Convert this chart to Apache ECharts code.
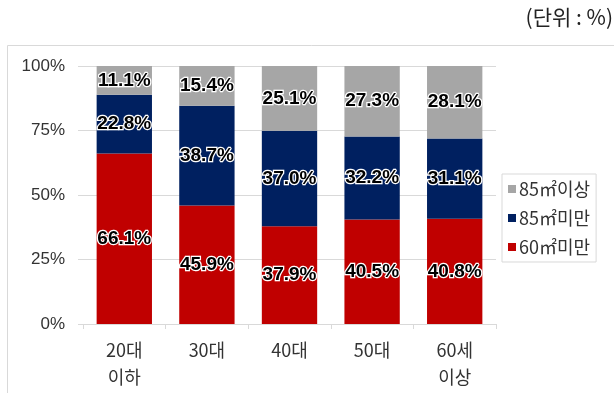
<!DOCTYPE html>
<html>
<head>
<meta charset="utf-8">
<script src="https://cdn.jsdelivr.net/npm/echarts@6/dist/echarts.min.js"></script>
<style>
  html, body { margin: 0; padding: 0; background: #fff; }
  #chart { width: 614px; height: 393px; }
</style>
</head>
<body>
<div id="chart"></div>
<script>
// Age groups (two-line labels)
const categories = ['20대\n이하', '30대', '40대', '50대', '60세\n이상'];
// Share of housing size by age group (%)
const under60 = [66.1, 45.9, 37.9, 40.5, 40.8];
const under85 = [22.8, 38.7, 37.0, 32.2, 31.1];
const over85 = [11.1, 15.4, 25.1, 27.3, 28.1];
const seriesNames = ['60㎡미만', '85㎡미만', '85㎡이상'];
const yTicks = { min: 0, max: 100, interval: 25 };

const FONT = '"Liberation Sans", "Noto Sans CJK KR", sans-serif';
const KFONT = '"Noto Sans CJK KR", sans-serif';
const colors = ['#C00000', '#002060', '#A6A6A6'];

const segLabel = {
  show: true,
  position: 'inside',
  formatter: p => p.value.toFixed(1) + '%',
  fontFamily: FONT,
  fontSize: 19,
  fontWeight: 'bold',
  color: '#000',
  textBorderColor: '#fff',
  textBorderWidth: 2.5
};

function makeSeries(name, data, color) {
  return {
    name: name,
    type: 'bar',
    stack: 'total',
    barWidth: '67%',
    data: data,
    itemStyle: { color: color },
    label: segLabel
  };
}

const chart = echarts.init(document.getElementById('chart'), null, { renderer: 'canvas' });
chart.setOption({
  animation: false,
  textStyle: { fontFamily: FONT },
  graphic: [
    {
      type: 'rect',
      shape: { x: 7.5, y: 45.5, width: 700, height: 400 },
      style: { fill: 'none', stroke: '#d9d9d9', lineWidth: 1 },
      z: -1
    },
    {
      type: 'text',
      right: 1,
      top: 7,
      style: { text: '(단위 : %)', font: '21px "Noto Sans CJK KR", sans-serif', fill: '#222' }
    }
  ],
  grid: { left: 83, right: 118, top: 66, bottom: 69 },
  legend: {
    orient: 'vertical',
    left: 502,
    top: 174,
    data: ['85㎡이상', '85㎡미만', '60㎡미만'],
    icon: 'rect',
    itemWidth: 8,
    itemHeight: 8,
    itemGap: 11,
    padding: [6, 6, 6, 6],
    borderColor: '#d9d9d9',
    borderWidth: 1,
    textStyle: { fontFamily: KFONT, fontSize: 18, color: '#333', padding: [0, 0, 0, -2] }
  },
  xAxis: {
    type: 'category',
    data: categories,
    axisLine: { lineStyle: { color: '#d9d9d9' } },
    axisTick: { show: true, length: 5, lineStyle: { color: '#d9d9d9' } },
    axisLabel: {
      margin: 13,
      fontFamily: KFONT,
      fontSize: 18,
      lineHeight: 27,
      color: '#333'
    }
  },
  yAxis: {
    type: 'value',
    min: yTicks.min,
    max: yTicks.max,
    interval: yTicks.interval,
    axisLine: { show: false },
    axisTick: { show: true, length: 5, lineStyle: { color: '#d9d9d9' } },
    splitLine: { lineStyle: { color: '#d9d9d9' } },
    axisLabel: {
      formatter: '{value}%',
      margin: 18,
      fontSize: 17,
      color: '#333'
    }
  },
  series: [
    makeSeries(seriesNames[0], under60, colors[0]),
    makeSeries(seriesNames[1], under85, colors[1]),
    makeSeries(seriesNames[2], over85, colors[2])
  ]
});
</script>
</body>
</html>
